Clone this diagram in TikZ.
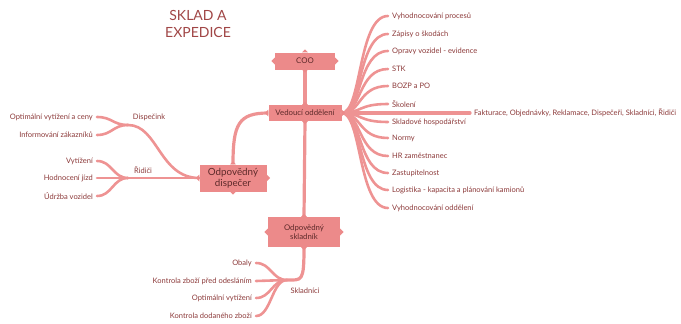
\documentclass[tikz,border=0pt]{standalone}
\usepackage{fontspec}
\setmainfont{Lato}
\usepackage{xcolor}
\usepackage{tikz}
\usetikzlibrary{positioning,calc}

\definecolor{boxc}{HTML}{EC8A8A}
\definecolor{branchc}{HTML}{EE9393}
\definecolor{itemc}{HTML}{8C3A3A}
\definecolor{titlec}{HTML}{A04646}
\definecolor{boxtext}{HTML}{5E2A2A}

% little pointed tips on all four sides of a box
\newcommand{\boxtips}[1]{%
  \fill[boxc] ($(#1.west)+(0,-3.5)$) -- ++(-3.5,3.5) -- ++(3.5,3.5) -- cycle;
  \fill[boxc] ($(#1.east)+(0,-3.5)$) -- ++(3.5,3.5) -- ++(-3.5,3.5) -- cycle;
  \fill[boxc] ($(#1.north)+(-3,0)$) -- ++(3,-3) -- ++(3,3) -- cycle;
  \fill[boxc] ($(#1.south)+(-3,0)$) -- ++(3,3) -- ++(3,-3) -- cycle;
}

\begin{document}
\begin{tikzpicture}[
    x=1pt, y=-1pt,
    mainbox/.style={rectangle, fill=boxc, text=boxtext, align=center, inner sep=2pt, font=\fontsize{7.8}{9.5}\selectfont},
    item/.style={text=itemc, inner xsep=4pt, inner ysep=1pt, font=\fontsize{7.5}{8.5}\selectfont},
    branch/.style={draw=branchc, line width=2.6pt, line cap=round},
    trunk/.style={draw=branchc, line width=3.2pt}
]
\useasboundingbox (0,0) rectangle (681,324);

% Title
\node[text=titlec, align=center, font=\fontsize{14}{17}\selectfont] (title) at (198,24) {SKLAD A\\EXPEDICE};

% Main boxes
\node[mainbox, minimum width=60pt, minimum height=17pt] (coo) at (305,61) {COO};
\node[mainbox, minimum width=73pt, minimum height=16pt] (vedouci) at (305,113) {Vedoucí oddělení};
\node[mainbox, minimum width=72pt, minimum height=30pt] (skladnik) at (304,232) {Odpovědný\\skladník};
\node[mainbox, minimum width=67pt, minimum height=27pt, font=\fontsize{9.8}{11.5}\selectfont] (dispecer) at (233,178) {Odpovědný\\dispečer};

% Trunk
\draw[trunk] (coo.south) -- (vedouci.north);
\draw[trunk] (vedouci.south) -- (skladnik.north);
\draw[trunk] (dispecer.north) .. controls +(0,-40) and +(-30,0) .. (vedouci.west);

% Right side items of Vedouci oddeleni
\node[item, anchor=west] (r1) at (388,16) {Vyhodnocování procesů};
\node[item, anchor=west] (r2) at (388,34) {Zápisy o škodách};
\node[item, anchor=west] (r3) at (388,51) {Opravy vozidel - evidence};
\node[item, anchor=west] (r4) at (388,69) {STK};
\node[item, anchor=west] (r5) at (388,86) {BOZP a PO};
\node[item, anchor=west] (r6) at (388,104) {Školení};
\node[item, anchor=west] (r7) at (388,122) {Skladové hospodářství};
\node[item, anchor=west] (r8) at (388,138) {Normy};
\node[item, anchor=west] (r9) at (388,156) {HR zaměstnanec};
\node[item, anchor=west] (r10) at (388,173) {Zastupitelnost};
\node[item, anchor=west] (r11) at (388,190) {Logistika - kapacita a plánování kamionů};
\node[item, anchor=west] (r12) at (388,208) {Vyhodnocování oddělení};
\node[item, anchor=west] (fakt) at (470,113) {Fakturace, Objednávky, Reklamace, Dispečeři, Skladníci, Řidiči};

\draw[branch] (vedouci.east) .. controls +(20,0) and +(-30,0) .. (r1.west);
\draw[branch] (vedouci.east) .. controls +(20,0) and +(-30,0) .. (r2.west);
\draw[branch] (vedouci.east) .. controls +(20,0) and +(-30,0) .. (r3.west);
\draw[branch] (vedouci.east) .. controls +(20,0) and +(-30,0) .. (r4.west);
\draw[branch] (vedouci.east) .. controls +(20,0) and +(-30,0) .. (r5.west);
\draw[branch] (vedouci.east) .. controls +(20,0) and +(-30,0) .. (r6.west);
\draw[branch] (vedouci.east) .. controls +(20,0) and +(-30,0) .. (r7.west);
\draw[branch] (vedouci.east) .. controls +(20,0) and +(-30,0) .. (r8.west);
\draw[branch] (vedouci.east) .. controls +(20,0) and +(-30,0) .. (r9.west);
\draw[branch] (vedouci.east) .. controls +(20,0) and +(-30,0) .. (r10.west);
\draw[branch] (vedouci.east) .. controls +(20,0) and +(-30,0) .. (r11.west);
\draw[branch] (vedouci.east) .. controls +(20,0) and +(-30,0) .. (r12.west);
\draw[branch, line width=3.2pt] (vedouci.east) -- (fakt.west);

% Left side: Dispecink and Ridici
\coordinate (fdisp) at (128,125);
\coordinate (fridic) at (128,178);
\node[item] (ldisp) at (149,117) {Dispečink};
\node[item] (lridic) at (143,170) {Řidiči};
\node[item, anchor=east] (l1) at (97,117) {Optimální vytížení a ceny};
\node[item, anchor=east] (l2) at (97,135) {Informování zákazníků};
\node[item, anchor=east] (l3) at (97,161) {Vytížení};
\node[item, anchor=east] (l4) at (97,178) {Hodnocení jízd};
\node[item, anchor=east] (l5) at (97,196) {Údržba vozidel};

\draw[branch] (dispecer.west) .. controls +(-40,0) and +(30,0) .. (fdisp);
\draw[branch] (dispecer.west) -- (fridic);
\draw[branch] (fdisp) .. controls +(-15,0) and +(15,0) .. (l1.east);
\draw[branch] (fdisp) .. controls +(-15,0) and +(15,0) .. (l2.east);
\draw[branch] (fridic) .. controls +(-15,0) and +(15,0) .. (l3.east);
\draw[branch] (fridic) -- (l4.east);
\draw[branch] (fridic) .. controls +(-15,0) and +(15,0) .. (l5.east);

% Bottom: Skladnici
\coordinate (fskl) at (287,280);
\node[item] (lskl) at (305,291) {Skladníci};
\node[item, anchor=east] (b1) at (256,263) {Obaly};
\node[item, anchor=east] (b2) at (256,281) {Kontrola zboží před odesláním};
\node[item, anchor=east] (b3) at (256,298) {Optimální vytížení};
\node[item, anchor=east] (b4) at (256,316) {Kontrola dodaného zboží};

\draw[trunk] (skladnik.south) .. controls +(0,35) and +(15,0) .. (fskl);
\draw[branch] (fskl) .. controls +(-15,0) and +(15,0) .. (b1.east);
\draw[branch] (fskl) .. controls +(-15,0) and +(15,0) .. (b2.east);
\draw[branch] (fskl) .. controls +(-15,0) and +(15,0) .. (b3.east);
\draw[branch] (fskl) .. controls +(-15,0) and +(15,0) .. (b4.east);

% tips on the boxes
\boxtips{coo}
\boxtips{vedouci}
\boxtips{skladnik}
\boxtips{dispecer}

\end{tikzpicture}
\end{document}
